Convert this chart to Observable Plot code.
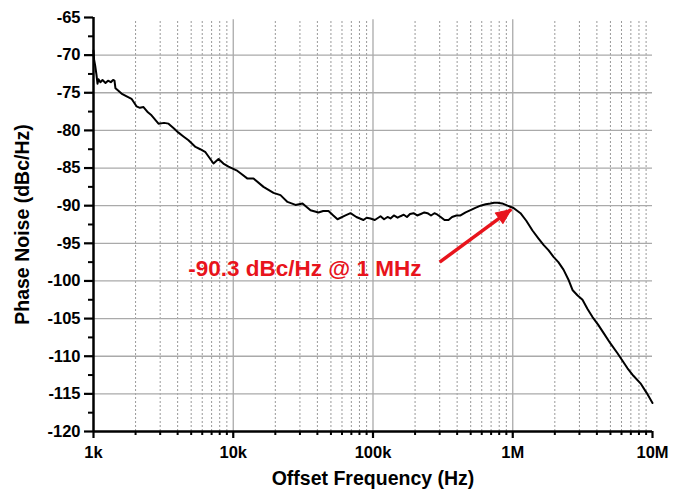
<!DOCTYPE html>
<html>
<head>
<meta charset="utf-8">
<script src="https://cdn.jsdelivr.net/npm/d3@7"></script>
<script src="https://cdn.jsdelivr.net/npm/@observablehq/plot@0.6"></script>
<style>
  html, body { margin: 0; padding: 0; background: #fff; }
</style>
</head>
<body>
<div id="chart"></div>
<script>
// Offset frequency (Hz) and phase noise (dBc/Hz)
const freq = [1000, 1010, 1028, 1050, 1068, 1086, 1120, 1160, 1219, 1270, 1330, 1380, 1413, 1436, 1500, 1586, 1700, 1871, 2031, 2150, 2279, 2450, 2601, 2918, 3200, 3441, 3750, 4058, 4400, 4784, 5369, 5800, 6329, 7222, 7845, 8500, 9248, 10550, 11270, 12650, 13960, 16460, 19410, 21780, 24440, 27890, 31300, 35710, 40740, 44000, 48040, 52000, 55720, 63560, 69020, 76000, 85500, 90000, 95960, 103000, 113200, 120000, 127000, 133400, 141000, 150000, 157300, 166000, 175000, 184000, 194900, 207000, 220000, 233000, 245500, 260000, 275000, 289400, 305000, 325000, 347000, 368000, 395000, 422800, 460000, 498600, 540000, 587800, 640000, 693000, 735000, 778000, 840000, 917300, 1013000, 1136000, 1250000, 1384000, 1520000, 1660000, 1800000, 1957000, 2120000, 2307000, 2500000, 2676000, 2900000, 3155000, 3420000, 3722000, 4080000, 4461000, 5000000, 5618000, 6100000, 6624000, 7300000, 8206000, 9100000, 10000000];
const noise = [-69.4, -70.6, -71.4, -72.6, -73.8, -73.2, -73.6, -73.3, -73.7, -73.4, -73.6, -73.3, -73.4, -74.4, -74.7, -75.1, -75.4, -75.8, -76.8, -77.0, -76.9, -77.6, -78.0, -79.1, -79.0, -79.1, -79.7, -80.3, -80.8, -81.3, -82.2, -82.5, -82.9, -84.4, -83.8, -84.4, -84.8, -85.3, -85.7, -86.4, -86.4, -87.5, -88.3, -88.6, -89.5, -89.9, -89.7, -90.6, -90.9, -90.7, -90.7, -91.3, -91.8, -91.3, -91.0, -91.5, -91.9, -91.6, -91.7, -91.9, -91.4, -91.8, -91.5, -91.7, -91.3, -91.6, -91.4, -91.2, -91.5, -91.1, -91.0, -91.3, -91.1, -90.9, -91.0, -91.3, -91.0, -91.2, -91.5, -91.9, -91.9, -91.5, -91.3, -91.3, -90.9, -90.6, -90.3, -90.0, -89.8, -89.7, -89.6, -89.6, -89.7, -90.0, -90.3, -91.0, -92.0, -93.3, -94.3, -95.2, -95.9, -96.8, -97.5, -98.5, -99.8, -101.2, -101.9, -102.5, -103.7, -104.8, -105.8, -106.9, -108.3, -109.6, -110.6, -111.6, -112.6, -113.6, -114.9, -116.2];

// Axes ticks and labels
const xMajorTicks = [1e3, 1e4, 1e5, 1e6, 1e7];
const xTickLabels = ["1k", "10k", "100k", "1M", "10M"];
const xMinorMultipliers = [2, 3, 4, 5, 6, 7, 8, 9];
const yMajorTicks = [-65, -70, -75, -80, -85, -90, -95, -100, -105, -110, -115, -120];
const yMinorTicks = [-67.5, -72.5, -77.5, -82.5, -87.5, -92.5, -97.5, -102.5, -107.5, -112.5, -117.5];
const yGrid = [-70, -75, -80, -85, -90, -95, -100, -105, -110, -115];
const xGridMajor = [1e4, 1e5, 1e6];

// Titles and annotation
const xTitle = "Offset Frequency (Hz)";
const yTitle = "Phase Noise (dBc/Hz)";
const annotationText = "-90.3 dBc/Hz @ 1 MHz";
const annotationPos = [{f: 32500, db: -98.4}];
const arrowData = [{f1: 300000, db1: -97.5, f2: 975000, db2: -90.5}];

const data = freq.map((f, i) => ({f, db: noise[i]}));
const xMinorTicks = [];
for (const d of [1e3, 1e4, 1e5, 1e6]) for (const m of xMinorMultipliers) xMinorTicks.push(d * m);
const labelMap = new Map(xMajorTicks.map((t, i) => [t, xTickLabels[i]]));

const red = "#e8141c";
const headShape = {
  draw(context, l) {
    context.moveTo(0, -l);
    context.lineTo(-6.5, 0);
    context.lineTo(6.5, 0);
    context.closePath();
  }
};

const chart = Plot.plot({
  width: 683,
  height: 491,
  marginLeft: 93,
  marginRight: 31,
  marginTop: 17,
  marginBottom: 60,
  style: {fontFamily: "'Liberation Sans', Arial, sans-serif", fontWeight: "bold", fontSize: "16px", color: "#000", background: "#fff"},
  x: {type: "log", domain: [1e3, 1e7]},
  y: {domain: [-120, -65]},
  marks: [
    Plot.ruleX(xMinorTicks, {stroke: "#999", strokeWidth: 1, strokeDasharray: "2,2", y1: -120, y2: -65.3}),
    Plot.ruleX(xGridMajor, {stroke: "#aaa", strokeWidth: 1.3, y1: -120, y2: -65.3}),
    Plot.ruleY(yGrid, {stroke: "#aaa", strokeWidth: 1.3}),
    Plot.axisY({ticks: yMajorTicks, tickSize: 9, tickPadding: 4, tickFormat: d => String(d), label: null, strokeWidth: 2.2, fontSize: 16.5, fontWeight: "bold"}),
    Plot.axisY({ticks: yMinorTicks, tickSize: 5, tickFormat: () => "", label: null, strokeWidth: 2}),
    Plot.axisX({ticks: xMajorTicks, tickSize: 7, tickPadding: 8, tickFormat: d => labelMap.get(d), label: null, strokeWidth: 2.2, fontSize: 16.5, fontWeight: "bold"}),
    Plot.axisX({ticks: xMinorTicks, tickSize: 4, tickFormat: () => "", label: null, strokeWidth: 2}),
    Plot.ruleX([1e3], {stroke: "#000", strokeWidth: 2.5}),
    Plot.ruleY([-120], {stroke: "#000", strokeWidth: 2.5}),
    Plot.line(data, {x: "f", y: "db", stroke: "#000", strokeWidth: 2}),
    Plot.link(arrowData, {x1: "f1", y1: "db1", x2: "f2", y2: "db2", stroke: red, strokeWidth: 3.5}),
    Plot.vector(arrowData, {x: "f2", y: "db2", length: 15, rotate: 54, anchor: "end", shape: headShape, fill: red, stroke: red, strokeWidth: 1}),
    Plot.text(annotationPos, {x: "f", y: "db", text: () => annotationText, fill: red, fontSize: 22.5, fontWeight: "bold"}),
    Plot.text([xTitle], {frameAnchor: "bottom", dy: 53, text: d => d, fontSize: 19.5, fontWeight: "bold"}),
    Plot.text([yTitle], {frameAnchor: "left", dx: -71, rotate: -90, textAnchor: "middle", lineAnchor: "middle", text: d => d, fontSize: 19.5, fontWeight: "bold"})
  ]
});
document.getElementById("chart").appendChild(chart);
</script>
</body>
</html>
